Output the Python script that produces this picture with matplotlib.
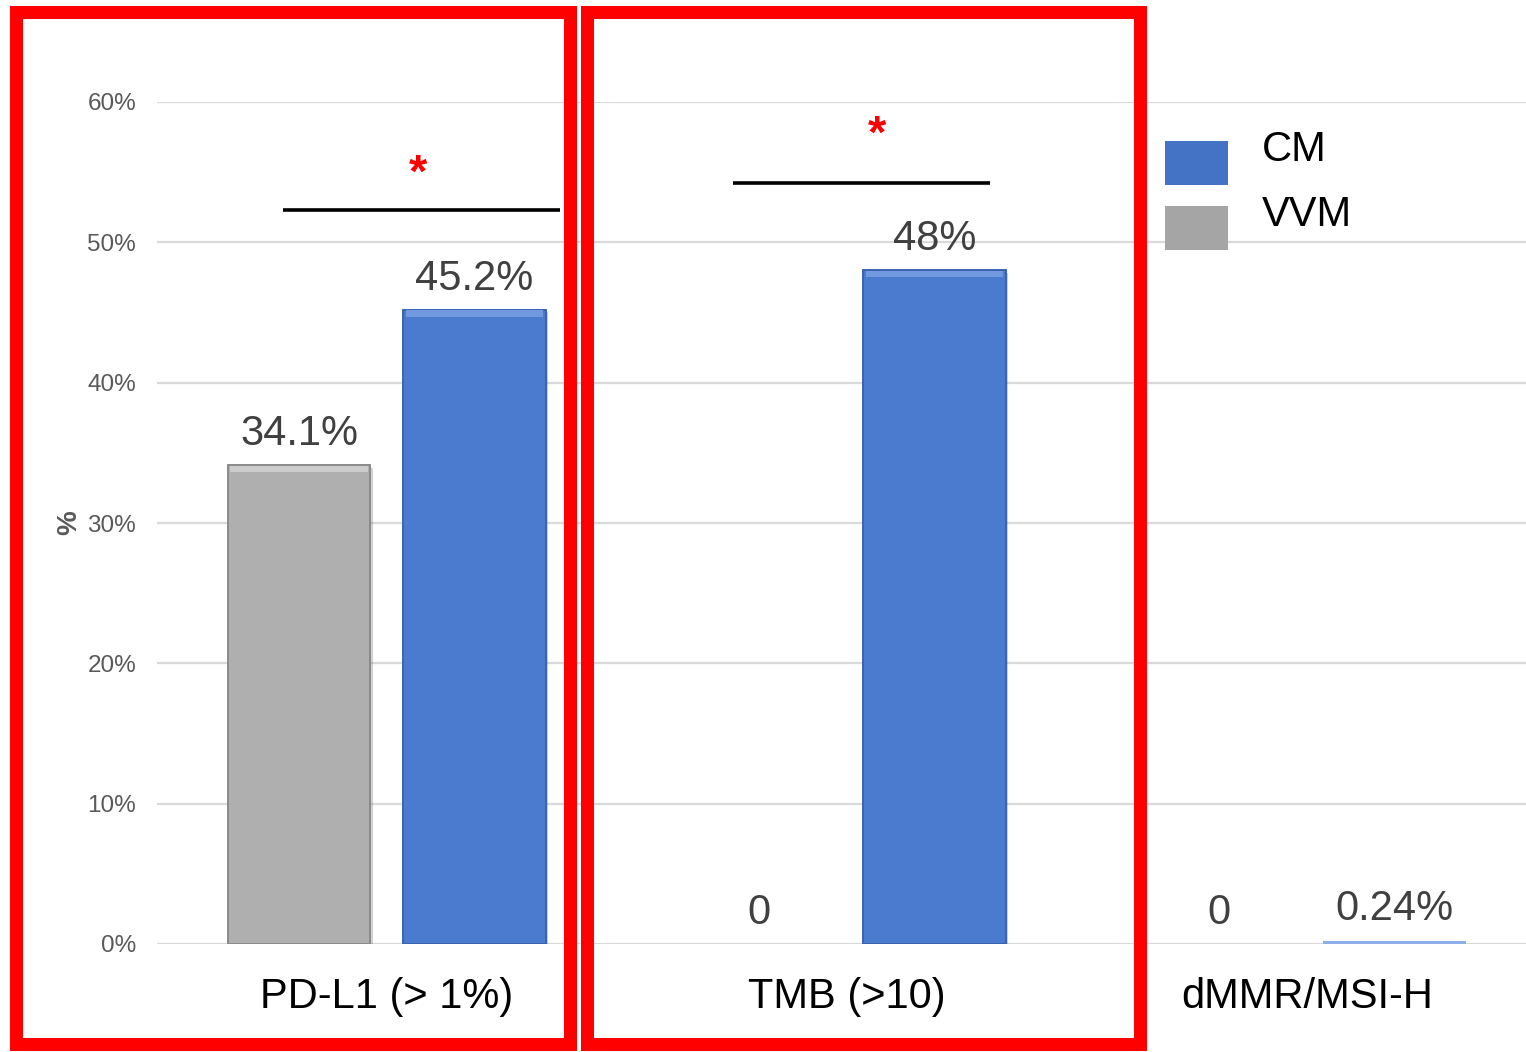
import matplotlib
matplotlib.use("Agg")
import matplotlib.pyplot as plt
import matplotlib.patheffects as pe
from matplotlib.patches import Patch, Rectangle
from matplotlib.legend_handler import HandlerPatch
import numpy as np

plt.rcParams['font.family'] = ['Liberation Sans', 'DejaVu Sans']

categories = ['PD-L1 (> 1%)', 'TMB (>10)', 'dMMR/MSI-H']
vvm = [34.1, 0, 0]
cm = [45.2, 48, 0.24]
yticks = [0, 10, 20, 30, 40, 50, 60]

# significance brackets: (x0, x1, line y, star x, star y) in data units
sig_marks = [(-0.2255, 0.3766, 52.3, 0.068, 53.98),
             (0.7527, 1.3114, 54.25, 1.066, 56.76)]

fig = plt.figure(figsize=(15.26, 10.52), dpi=100)
ax = fig.add_axes([157 / 1526, 1 - 944 / 1052, 1 - 157 / 1526, (944 - 102) / 1052])

x = np.arange(len(categories))
off = 0.1908
width = 0.309

shadow = [pe.SimplePatchShadow(offset=(2, -2), alpha=0.22), pe.Normal()]
series = [(vvm, x - off, '#AFAFAF', '#8A8A8A', '#CCCCCC'),
          (cm, x + off, '#4A7BCF', '#3A63AE', '#7099E0')]

for vals, pos, face, edge, light in series:
    bars = ax.bar(pos, vals, width, color=face, edgecolor=edge,
                  linewidth=1.4, zorder=3, path_effects=shadow)
    for rect, v in zip(bars, vals):
        if v < 1:
            rect.set_linewidth(0)
            rect.set_path_effects([])
            if v > 0:
                rect.set_facecolor('#8DAEE8')
        else:
            # bevelled top edge
            ax.bar(rect.get_x() + width / 2, 0.45, width * 0.97,
                   bottom=v - 0.5, color=light, linewidth=0, zorder=4)
        ax.annotate(f"{v:g}%" if v else "0",
                    (rect.get_x() + rect.get_width() / 2, v),
                    xytext=(0, 14.5), textcoords='offset points',
                    ha='center', va='baseline', fontsize=30, color='#404040',
                    zorder=5)

ax.set_xlim(-0.4995, 2.4766)
ax.set_ylim(0, 60)
ax.set_yticks(yticks)
ax.set_yticklabels([f"{t}%" for t in yticks], fontsize=17.5, color='#595959')
ax.set_xticks(x)
ax.set_xticklabels(categories, fontsize=30, color='black')
ax.tick_params(axis='x', length=0, pad=24)
ax.tick_params(axis='y', length=0, pad=15)
ax.grid(axis='y', color='#D9D9D9', linewidth=1.6, zorder=0)
ax.set_axisbelow(True)
for s in ax.spines.values():
    s.set_visible(False)
ax.set_ylabel('%', fontsize=20, color='#595959', fontweight='bold', labelpad=4)

for x0, x1, ly, sx, sy in sig_marks:
    ax.plot([x0, x1], [ly, ly], color='black', linewidth=2.6, zorder=6,
            solid_capstyle='butt', clip_on=False)
    ax.text(sx, sy, '*', color='red', fontsize=34, fontweight='bold',
            ha='center', va='baseline', zorder=6)


def centred_patch(legend, orig_handle, xdescent, ydescent, width, height,
                  fontsize):
    h = 31.5
    return Rectangle((-xdescent, -h / 2 - 1.7), width, h)


handles = [Patch(facecolor='#4472C4', label='CM'),
           Patch(facecolor='#A5A5A5', label='VVM')]
fig.legend(handles=handles, loc='upper left',
           bbox_to_anchor=(1165 / 1526, 1 - 130 / 1052), frameon=False,
           fontsize=30, handlelength=1.51, handleheight=0.7,
           handletextpad=0.82, labelspacing=0.6, borderpad=0,
           borderaxespad=0,
           handler_map={Patch: HandlerPatch(patch_func=centred_patch)})

# red frames around the first two groups
for left, right in ((16, 570), (586.5, 1139.5)):
    fig.add_artist(Rectangle((left / 1526, 1 - 1044 / 1052),
                             (right - left) / 1526, (1044 - 11.5) / 1052,
                             transform=fig.transFigure, fill=False,
                             edgecolor='#FF0000', linewidth=9.4,
                             joinstyle='miter', zorder=10))

fig.savefig('out.png', dpi=100)
